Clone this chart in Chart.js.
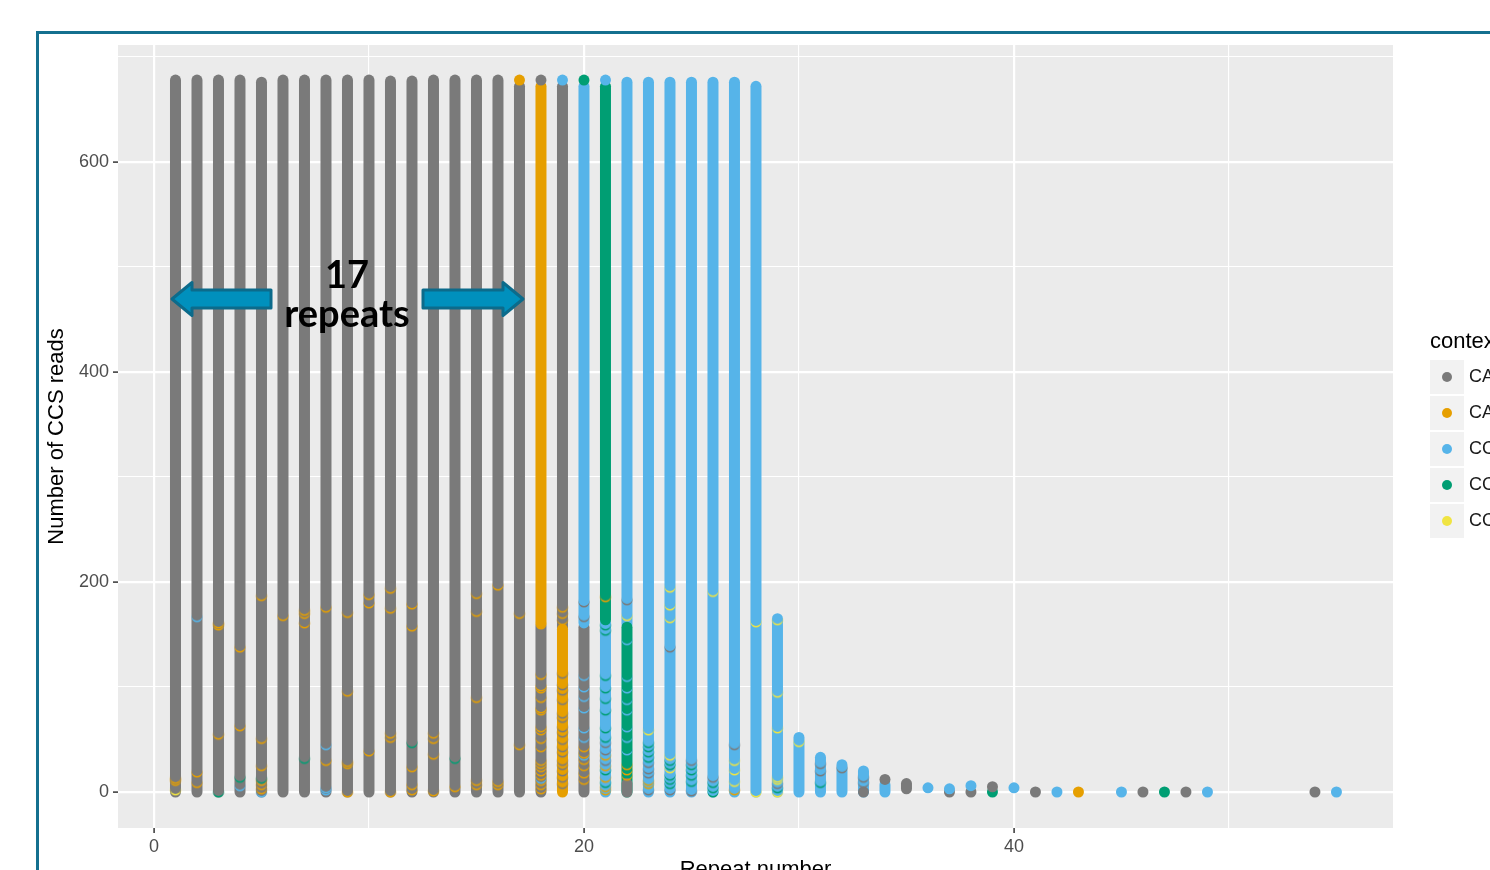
<!DOCTYPE html>
<html>
<head>
<meta charset="utf-8">
<title>Repeat number vs CCS reads</title>
<script src="https://cdn.jsdelivr.net/npm/chart.js@4.4.1/dist/chart.umd.min.js"></script>
<style>
    html, body { margin: 0; padding: 0; background: #fff; overflow: hidden; }
    #wrap { position: relative; width: 1490px; height: 870px; overflow: hidden; }
    #scatterChart { position: absolute; left: 0; top: 0; }
</style>
</head>
<body>
<div id="wrap"><canvas id="scatterChart" width="1600" height="900"></canvas></div>
<script>
// --- DATA ---

const contextLabels = ['CAA', 'CAG', 'CCA', 'CCG', 'CCT'];
const contextColors = ['#7a7a7a', '#e69f00', '#56b4e9', '#009e73', '#f0e442'];

const xTickLabels = [0, 20, 40];
const yTickLabels = [0, 200, 400, 600];

// stacked reads of one context: [repeat number, first read, last read, context]
const readRuns = [
    [1, 0, 678, 0], [2, 0, 678, 0], [3, 0, 678, 0], [4, 0, 678, 0],
    [5, 0, 676, 0], [6, 0, 678, 0], [7, 0, 678, 0], [8, 0, 678, 0],
    [9, 0, 678, 0], [10, 0, 678, 0], [11, 0, 677, 0], [12, 0, 677, 0],
    [13, 0, 678, 0], [14, 0, 678, 0], [15, 0, 678, 0], [16, 0, 678, 0],
    [17, 0, 672, 0],
    [18, 0, 158, 0], [18, 161, 672, 1],
    [19, 157, 672, 0], [19, 0, 155, 1],
    [20, 0, 157, 0], [20, 161, 672, 2],
    [21, 0, 161, 2], [21, 164, 672, 3],
    [22, 160, 676, 2], [22, 0, 157, 3], [22, 0, 8, 0],
    [23, 0, 676, 2], [24, 0, 676, 2], [25, 0, 676, 2], [26, 0, 676, 2],
    [27, 0, 676, 2], [28, 0, 672, 2], [29, 0, 165, 2], [30, 0, 52, 2],
    [31, 0, 33, 2], [32, 0, 26, 2], [33, 0, 20, 2], [34, 0, 7, 2],
    [35, 3, 8, 0]
];

// single reads: [repeat number, read, context]
const singleReads = [
    [17, 678, 1], [18, 678, 0], [19, 678, 2], [20, 678, 3], [21, 678, 2],
    [33, 0, 0], [34, 12, 0], [36, 4, 2], [37, 0, 0], [37, 3, 2],
    [38, 0, 0], [38, 6, 2], [39, 0, 3], [39, 5, 0], [40, 4, 2],
    [41, 0, 0], [42, 0, 2], [43, 0, 1], [45, 0, 2], [46, 0, 0],
    [47, 0, 3], [48, 0, 0], [49, 0, 2], [54, 0, 0], [55, 0, 2]
];

// reads hidden inside a column of another context, only their edge shows: [repeat, read]
const minorGray = [
    [19, 113], [19, 102], [19, 97], [19, 88], [19, 75], [19, 71], [19, 62], [19, 57],
    [19, 50], [19, 43], [19, 38], [19, 30], [19, 26], [19, 20], [19, 14], [19, 8],
    [20, 181], [20, 167], [21, 47], [21, 40], [21, 30], [22, 183],
    [23, 28], [23, 22], [23, 18], [23, 2], [24, 138], [24, 2], [25, 30], [25, 1],
    [26, 14], [27, 45], [29, 8], [31, 27], [31, 20], [32, 23], [33, 14], [33, 9]
];
const minorOrange = [
    [1, 13], [1, 11], [2, 19], [2, 9], [3, 161], [3, 159], [3, 55], [4, 138], [4, 63],
    [5, 187], [5, 51], [5, 25], [5, 11], [5, 7], [5, 3], [6, 168], [7, 173], [7, 170],
    [7, 161], [8, 176], [8, 30], [9, 171], [9, 96], [9, 29], [9, 27], [9, 0],
    [10, 188], [10, 180], [10, 39], [11, 194], [11, 175], [11, 56], [11, 52], [11, 0],
    [12, 179], [12, 158], [12, 24], [12, 7], [12, 2], [13, 56], [13, 51], [13, 36], [13, 1],
    [14, 5], [15, 189], [15, 172], [15, 90], [15, 11], [15, 7], [16, 197], [16, 10], [16, 7],
    [17, 170], [17, 45],
    [18, 160], [18, 112], [18, 101], [18, 99], [18, 90], [18, 80], [18, 78], [18, 62],
    [18, 59], [18, 51], [18, 43], [18, 30], [18, 27], [18, 24], [18, 20], [18, 16],
    [18, 11], [18, 7], [18, 3],
    [19, 176], [19, 170], [19, 164], [20, 43], [20, 37], [20, 31], [20, 25], [20, 18], [20, 12],
    [21, 186], [21, 35], [21, 25], [21, 14], [21, 5], [21, 2], [22, 26], [22, 21], [22, 16],
    [23, 11], [23, 8], [27, 2]
];
const minorBlue = [
    [2, 167], [4, 6], [5, 0], [8, 45], [8, 4], [8, 2], [18, 13],
    [20, 111], [20, 100], [20, 91], [20, 80], [20, 61], [20, 52], [20, 35],
    [22, 145], [22, 110], [22, 99], [22, 88], [22, 78], [22, 62], [22, 52], [22, 40]
];
const minorGreen = [
    [3, 0], [4, 14], [5, 13], [7, 32], [12, 47], [14, 32],
    [21, 159], [21, 154], [21, 111], [21, 99], [21, 89], [21, 78], [21, 61], [21, 52], [21, 21], [21, 9],
    [23, 47], [23, 43], [23, 38], [23, 33], [24, 30], [24, 26], [24, 16], [24, 12], [24, 8],
    [25, 26], [25, 21], [25, 16], [25, 10], [26, 9], [26, 4], [26, 0], [29, 4], [31, 9]
];
const minorYellow = [
    [1, 2], [22, 168], [23, 59], [24, 195], [24, 178], [24, 166], [24, 35], [24, 23],
    [26, 191], [27, 30], [27, 21], [27, 10], [28, 162], [28, 0],
    [29, 164], [29, 95], [29, 61], [29, 14], [29, 12], [29, 0], [30, 48]
];
const minorReads = [minorGray, minorOrange, minorBlue, minorGreen, minorYellow];

// --- ESTILO ---

const FONT = '"Liberation Sans", Arial, sans-serif';

// the visible lower edge of a point covered by the next one
function crescent(color) {
    const c = document.createElement('canvas');
    c.width = 14; c.height = 14;
    const g = c.getContext('2d');
    g.fillStyle = color;
    g.beginPath(); g.arc(7, 7, 5.5, 0, Math.PI * 2); g.fill();
    g.globalCompositeOperation = 'destination-out';
    g.beginPath(); g.arc(7, 5.4, 5.5, 0, Math.PI * 2); g.fill();
    return c;
}

function drawArrow(ctx, tipX, backX, endX, y) {
    const dir = Math.sign(tipX - endX);
    ctx.beginPath();
    ctx.moveTo(tipX, y);
    ctx.lineTo(backX, y - 16.5);
    ctx.lineTo(backX, y - 9);
    ctx.lineTo(endX, y - 9);
    ctx.lineTo(endX, y + 9);
    ctx.lineTo(backX, y + 9);
    ctx.lineTo(backX, y + 16.5);
    ctx.closePath();
    ctx.fillStyle = '#0090bd';
    ctx.fill();
    ctx.lineJoin = 'round';
    ctx.lineWidth = 3;
    ctx.strokeStyle = '#0c6b8b';
    ctx.stroke();
    return dir;
}

const ggDecor = {
    id: 'ggDecor',
    beforeDraw(chart) {
        const { ctx, chartArea: a } = chart;
        ctx.save();
        ctx.fillStyle = '#ebebeb';
        ctx.fillRect(a.left, a.top, a.right - a.left, a.bottom - a.top);
        ctx.restore();
    },
    afterDraw(chart) {
        const { ctx, chartArea: a } = chart;
        ctx.save();

        // moldura
        ctx.strokeStyle = '#14708f';
        ctx.lineWidth = 3;
        ctx.strokeRect(37.5, 32.5, 1700, 1000);

        // axis titles
        ctx.fillStyle = '#000';
        ctx.font = '22px ' + FONT;
        ctx.textAlign = 'center';
        ctx.textBaseline = 'middle';
        ctx.fillText('Repeat number', (a.left + a.right) / 2, 870);
        ctx.save();
        ctx.translate(57, (a.top + a.bottom) / 2);
        ctx.rotate(-Math.PI / 2);
        ctx.fillText('Number of CCS reads', 0, 0);
        ctx.restore();

        // anotacao
        drawArrow(ctx, 172, 192, 271, 299);
        drawArrow(ctx, 523, 503, 423, 299);
        ctx.fillStyle = '#000';
        ctx.font = 'bold 38px Lato, "Open Sans", sans-serif';
        ctx.textBaseline = 'alphabetic';
        ctx.fillText('17', 347, 288);
        ctx.fillText('repeats', 347, 327);

        // legenda
        ctx.textAlign = 'left';
        ctx.textBaseline = 'middle';
        ctx.font = '22px ' + FONT;
        ctx.fillText('context', 1430, 342);
        ctx.font = '18px ' + FONT;
        contextLabels.forEach((lab, i) => {
            const y0 = 360 + i * 36;
            ctx.fillStyle = '#f2f2f2';
            ctx.fillRect(1430, y0, 34, 34);
            ctx.fillStyle = contextColors[i];
            ctx.beginPath();
            ctx.arc(1447, y0 + 17, 5, 0, Math.PI * 2);
            ctx.fill();
            ctx.fillStyle = '#1a1a1a';
            ctx.fillText(lab, 1469, y0 + 17);
        });
        ctx.restore();
    }
};

// --- DATASETS ---

const runSets = readRuns.map((r, i) => ({
    label: 'run ' + i,
    data: [{ x: r[0], y: r[1] }, { x: r[0], y: r[2] }],
    showLine: true,
    borderColor: contextColors[r[3]],
    borderWidth: 11,
    borderCapStyle: 'round',
    pointRadius: 0,
    order: 10 + readRuns.length - i
}));

const dotSet = {
    label: 'single',
    data: singleReads.map(r => ({ x: r[0], y: r[1] })),
    pointRadius: 5.5,
    pointBackgroundColor: singleReads.map(r => contextColors[r[2]]),
    pointBorderWidth: 0,
    order: 5
};

const minorSets = minorReads.map((list, k) => ({
    label: 'minor ' + contextLabels[k],
    data: list.map(r => ({ x: r[0], y: r[1] })),
    pointStyle: crescent(contextColors[k]),
    pointRadius: 5,
    order: 0
}));

document.addEventListener('DOMContentLoaded', () => {
    const canvas = document.getElementById('scatterChart');
    if (!canvas) return;

    new Chart(canvas, {
        type: 'scatter',
        data: { datasets: [...runSets, dotSet, ...minorSets] },
        options: {
            responsive: false,
            animation: false,
            devicePixelRatio: 1,
            events: [],
            layout: { padding: { left: 0, top: 45, right: 207, bottom: 0 } },
            plugins: { legend: { display: false }, tooltip: { enabled: false } },
            scales: {
                x: {
                    type: 'linear',
                    min: -1.674,
                    max: 57.63,
                    afterFit: s => { s.height = 72; },
                    border: { display: false },
                    grid: {
                        color: '#ffffff',
                        lineWidth: c => (c.tick && xTickLabels.includes(c.tick.value)) ? 2.2 : 1.1,
                        tickColor: c => (c.tick && xTickLabels.includes(c.tick.value)) ? '#333333' : 'rgba(0,0,0,0)',
                        tickLength: 5,
                        tickWidth: 1.5
                    },
                    ticks: {
                        stepSize: 10,
                        includeBounds: false,
                        autoSkip: false,
                        maxRotation: 0,
                        padding: 3,
                        color: '#4d4d4d',
                        font: { family: FONT, size: 18 },
                        callback: v => xTickLabels.includes(v) ? String(v) : ''
                    }
                },
                y: {
                    type: 'linear',
                    min: -34.29,
                    max: 711.4,
                    afterFit: s => { s.width = 118; },
                    border: { display: false },
                    grid: {
                        color: '#ffffff',
                        lineWidth: c => (c.tick && yTickLabels.includes(c.tick.value)) ? 2.2 : 1.1,
                        tickColor: c => (c.tick && yTickLabels.includes(c.tick.value)) ? '#333333' : 'rgba(0,0,0,0)',
                        tickLength: 5,
                        tickWidth: 1.5
                    },
                    ticks: {
                        stepSize: 100,
                        includeBounds: false,
                        autoSkip: false,
                        padding: 4,
                        color: '#4d4d4d',
                        font: { family: FONT, size: 18 },
                        callback: v => yTickLabels.includes(v) ? String(v) : ''
                    }
                }
            }
        },
        plugins: [ggDecor]
    });
});
</script>
</body>
</html>
